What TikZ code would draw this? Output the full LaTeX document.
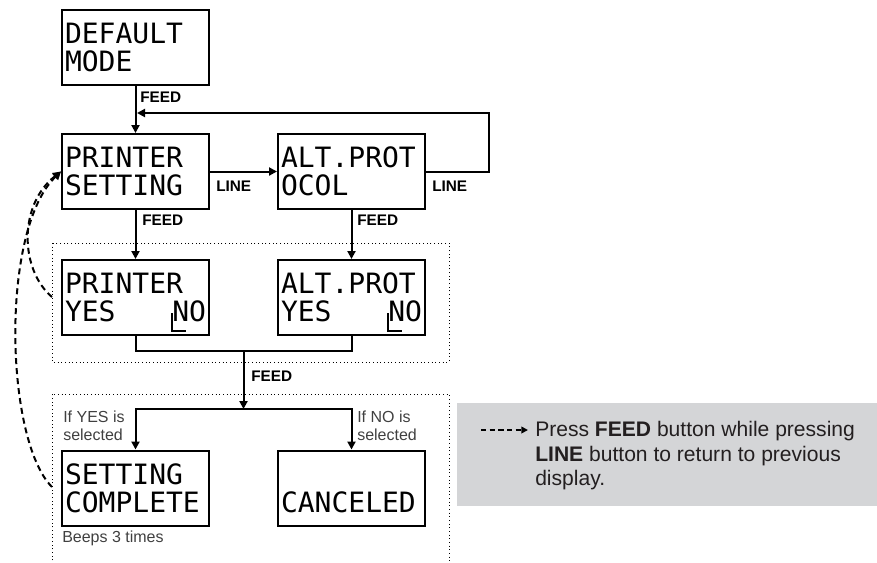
\documentclass[tikz,border=0pt]{standalone}
\usepackage{fontspec}
\setmainfont{Liberation Sans}
\newfontfamily\lcdfont{DejaVu Sans Mono}
\usetikzlibrary{arrows.meta,calc}
\definecolor{legendgray}{RGB}{212,213,215}
\definecolor{txtgray}{RGB}{64,64,64}
\definecolor{legtext}{RGB}{35,31,32}
\begin{document}
\begin{tikzpicture}[x=0.75pt,y=-0.75pt,
  lcd/.style={draw=black,line width=1.5pt,minimum width=110.25pt,minimum height=56.25pt,
    inner xsep=2.25pt,inner ysep=0pt,text width=105.75pt,align=left,
    font=\lcdfont\fontsize{21}{21}\selectfont},
  conn/.style={line width=1.5pt,line join=miter},
  arr/.style={conn,-{Triangle[length=6pt,width=6pt]}},
  btn/.style={font=\bfseries\fontsize{11.5}{13}\selectfont,inner sep=0pt,anchor=west},
  note/.style={font=\fontsize{12}{13.5}\selectfont,text=txtgray,inner sep=0pt,anchor=north west,align=left},
  grp/.style={dotted,line width=0.75pt},
  back/.style={dash pattern=on 4.5pt off 3pt,line width=1.5pt,-{Triangle[length=6pt,width=6pt]}},
  cursor/.style={line width=1.2pt}
]
\useasboundingbox (0,0) rectangle (877,562);

% dotted groups
\draw[grp] (52,243) rectangle (449,362);
\draw[grp] (52,575) -- (52,394) -- (449,394) -- (449,575);

% LCD displays
\node[lcd] (dm)  at (135.5,47.5)  {DEFAULT\\MODE};
\node[lcd] (ps)  at (135.5,171.5) {PRINTER\\SETTING};
\node[lcd] (ap)  at (351.5,171.5) {ALT.PROT\\OCOL};
\node[lcd] (pyn) at (135.5,297.5) {PRINTER\\YES\hfill NO};
\node[lcd] (ayn) at (351.5,297.5) {ALT.PROT\\YES\hfill NO};
\node[lcd] (sc)  at (135.5,488)   {SETTING\\COMPLETE};
\node[lcd] (cn)  at (351.5,488)   {\vphantom{C}\\CANCELED};

% cursors
\draw[cursor] (172,313) -- (172,331) -- (186,331);
\draw[cursor] (388,313) -- (388,331) -- (402,331);

% connectors
\coordinate (rt) at (489,113);
\coordinate (rj) at (137,113);
\coordinate (mj) at (243.5,351);
\coordinate (bj) at (243.5,409);
\draw[arr] (dm) -- (ps);
\draw[arr] (ps) -- (ap);
\draw[arr] (ap.east) -| (rt) -- (rj);
\draw[arr] (ps) -- (pyn);
\draw[arr] (ap) -- (ayn);
\draw[conn] (pyn.south) |- (mj) -| (ayn.south);
\draw[arr] (mj) -- (bj);
\draw[arr] (bj) -| (sc.north);
\draw[arr] (bj) -| (cn.north);

% dashed returns
\coordinate (b1) at (52,297);
\coordinate (b2) at (52,487);
\draw[back] (b1) .. controls (20,270) and (18,205) .. (ps.west);
\draw[back] (b2) .. controls (5,440) and (0,230) .. (ps.west);

% labels
\node[btn] (f1) at (140,97)  {FEED};
\node[btn] (l1) at (216,186) {LINE};
\node[btn] (l2) at (432,186) {LINE};
\node[btn] (f2) at (142,220) {FEED};
\node[btn] (f3) at (357,220) {FEED};
\node[btn] (f4) at (251,376) {FEED};
\node[note] (ys) at (63,411)  {If YES is\\selected};
\node[note] (ns) at (357,411) {If NO is\\selected};
\node[note] (bp) at (62,531)  {Beeps 3 times};

% legend
\fill[legendgray] (457,403) rectangle (877,506);
\coordinate (la) at (481,430);
\coordinate (lb) at (528,430);
\draw[back,line width=1.2pt,dash pattern=on 4pt off 2.5pt,-{Triangle[length=5pt,width=5pt]}] (la) -- (lb);
\node[anchor=north west,inner sep=0pt,align=left,font=\fontsize{15.8}{18.4}\selectfont,text=legtext] (lg) at (535,421)
  {Press \textbf{FEED} button while pressing\\\textbf{LINE} button to return to previous\\display.};
\end{tikzpicture}
\end{document}
